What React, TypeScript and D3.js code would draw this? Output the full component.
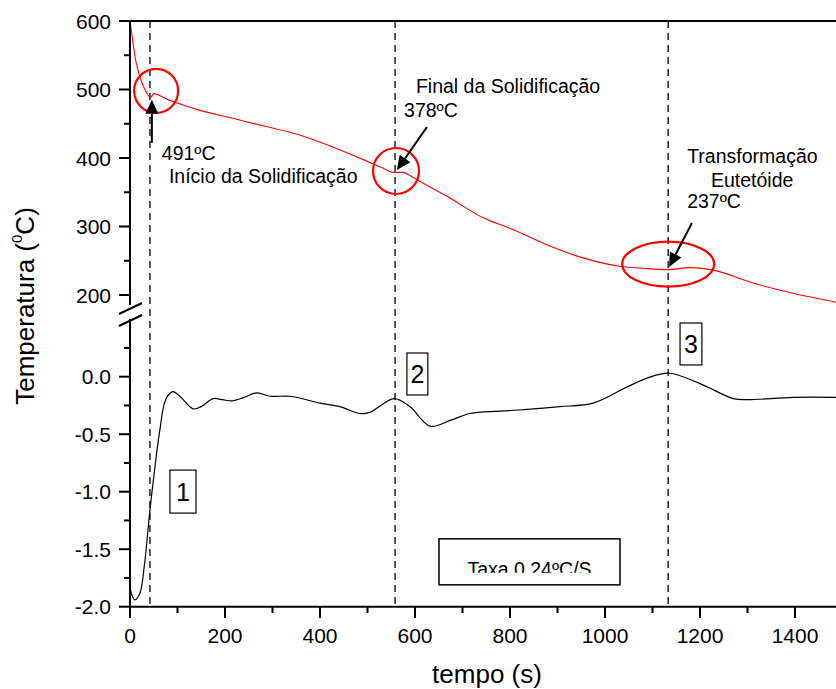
import React from "react";
import * as d3 from "d3";

// ---- Data ----
const tempTime = [0, 5, 10, 18, 28, 38, 43, 50, 60, 80, 105, 140, 210, 280, 350, 420, 490, 530, 555, 575, 590, 610, 670, 740, 805, 875, 945, 1030, 1080, 1133, 1180, 1230, 1310, 1380, 1490];
const tempValues = [600, 575, 550, 525, 505, 492, 488, 494, 492, 485, 479, 471, 459, 447, 435, 418, 398, 386, 379, 379, 374, 366, 343, 314, 296, 274, 256, 242, 239, 237, 240, 236, 218, 205, 189];

const derivTime = [0, 10, 21, 30, 42, 55, 63, 75, 90, 105, 133, 150, 175, 195, 215, 240, 267, 295, 337, 400, 442, 484, 505, 556, 589, 632, 674, 716, 780, 850, 905, 975, 1046, 1090, 1135, 1200, 1270, 1298, 1396, 1490];
const derivValues = [-1.84, -1.94, -1.88, -1.65, -1.16, -0.7, -0.46, -0.2, -0.13, -0.17, -0.28, -0.26, -0.19, -0.2, -0.21, -0.18, -0.14, -0.17, -0.17, -0.23, -0.26, -0.32, -0.31, -0.19, -0.26, -0.43, -0.38, -0.32, -0.3, -0.28, -0.26, -0.23, -0.09, -0.01, 0.03, -0.06, -0.19, -0.2, -0.18, -0.18];

const xTicks = [0, 200, 400, 600, 800, 1000, 1200, 1400];
const xMinorTicks = [100, 300, 500, 700, 900, 1100, 1300, 1500];
const topTicks = [600, 500, 400, 300, 200];
const topMinorTicks = [550, 450, 350, 250];
const botTicks = [0, -0.5, -1.0, -1.5, -2.0];
const botMinorTicks = [0.25, -0.25, -0.75, -1.25, -1.75];

const eventTimes = [42, 558, 1133];
const eventLabels = ["1", "2", "3"];

const W = 836, H = 689;
const FONT = "'Liberation Sans', Arial, sans-serif";

export default function App() {
  const x = d3.scaleLinear().domain([0, 1500]).range([130, 842.5]);
  const yTop = d3.scaleLinear().domain([200, 600]).range([295, 21]);
  const yBot = d3.scaleLinear().domain([-2, 0]).range([606.7, 376.7]);

  const redLine = d3
    .line<number>()
    .x((_, i) => x(tempTime[i]))
    .y((d) => yTop(d))
    .curve(d3.curveMonotoneX)(tempValues) as string;

  const blackLine = d3
    .line<number>()
    .x((_, i) => x(derivTime[i]))
    .y((d) => yBot(d))
    .curve(d3.curveCatmullRom.alpha(0.5))(derivValues) as string;

  const arrow = (x1: number, y1: number, x2: number, y2: number, key: string) => {
    const ang = Math.atan2(y2 - y1, x2 - x1);
    const L = 14, hw = 6.5;
    const bx = x2 - L * Math.cos(ang), by = y2 - L * Math.sin(ang);
    const px = -Math.sin(ang) * hw, py = Math.cos(ang) * hw;
    return (
      <g key={key}>
        <line x1={x1} y1={y1} x2={bx} y2={by} stroke="#000" strokeWidth={2} />
        <path d={`M${x2},${y2}L${bx + px},${by + py}L${bx - px},${by - py}Z`} fill="#000" />
      </g>
    );
  };

  const boxes = [
    { t0: 84, t1: 139, v0: -0.812, v1: -1.186 },
    { t0: 583, t1: 627, v0: 0.206, v1: -0.159 },
    { t0: 1158, t1: 1204, v0: 0.467, v1: 0.102 },
  ];

  const taxa = { t0: 650.5, t1: 1031.6, v0: -1.41, v1: -1.81 };

  return (
    <svg width={W} height={H} style={{ position: "absolute", left: 0, top: 0, background: "#fff" }} fontFamily={FONT}>
      <defs>
        <clipPath id="plot">
          <rect x={130} y={0} width={W - 130} height={H} />
        </clipPath>
        <clipPath id="taxaClip">
          <rect x={x(taxa.t0)} y={yBot(taxa.v0)} width={x(taxa.t1) - x(taxa.t0)} height={34} />
        </clipPath>
      </defs>
      <rect x={0} y={0} width={W} height={H} fill="#fff" />

      {/* dashed event lines */}
      {eventTimes.map((t) => (
        <line key={"ev" + t} x1={x(t)} x2={x(t)} y1={21} y2={606.7} stroke="#000" strokeWidth={1.3} strokeDasharray="7,5" />
      ))}

      {/* curves */}
      <g clipPath="url(#plot)">
        <path d={redLine} fill="none" stroke="#ff0000" strokeWidth={1.1} />
        <path d={blackLine} fill="none" stroke="#000" strokeWidth={1.2} />
      </g>

      {/* circles */}
      <circle cx={x(55)} cy={yTop(498)} r={22} fill="none" stroke="#ff0000" strokeWidth={2.2} />
      <circle cx={x(560)} cy={yTop(381)} r={23} fill="none" stroke="#ff0000" strokeWidth={2.2} />
      <ellipse cx={x(1133)} cy={yTop(245)} rx={46} ry={22.5} fill="none" stroke="#ff0000" strokeWidth={2.2} />

      {/* arrows */}
      {arrow(x(46), yTop(422), x(46), yTop(485), "a1")}
      {arrow(x(625), yTop(445), x(562), yTop(382.5), "a2")}
      {arrow(x(1183), yTop(305), x(1135), yTop(241), "a3")}

      {/* annotation texts */}
      <g fontSize={19.5} fill="#000">
        <text x={x(67)} y={yTop(397)}>491ºC</text>
        <text x={x(82)} y={yTop(363.5)}>Início da Solidificação</text>
        <text x={x(602)} y={yTop(495)}>Final da Solidificação</text>
        <text x={x(577)} y={yTop(460)}>378ºC</text>
        <text x={x(1173)} y={yTop(393)}>Transformação</text>
        <text x={x(1223)} y={yTop(358)}>Eutetóide</text>
        <text x={x(1173)} y={yTop(327)}>237ºC</text>
      </g>

      {/* number boxes */}
      {boxes.map((b, i) => (
        <g key={"b" + i}>
          <rect x={x(b.t0)} y={yBot(b.v0)} width={x(b.t1) - x(b.t0)} height={yBot(b.v1) - yBot(b.v0)} fill="#fff" stroke="#000" strokeWidth={1.2} />
          <text x={(x(b.t0) + x(b.t1)) / 2} y={(yBot(b.v0) + yBot(b.v1)) / 2 + 9} fontSize={25} textAnchor="middle">
            {eventLabels[i]}
          </text>
        </g>
      ))}

      {/* Taxa box */}
      <rect x={x(taxa.t0)} y={yBot(taxa.v0)} width={x(taxa.t1) - x(taxa.t0)} height={yBot(taxa.v1) - yBot(taxa.v0)} fill="#fff" stroke="#000" strokeWidth={1.5} />
      <text x={(x(taxa.t0) + x(taxa.t1)) / 2} y={yBot(taxa.v0) + 37} fontSize={19.5} textAnchor="middle" clipPath="url(#taxaClip)">
        Taxa 0.24ºC/S
      </text>

      {/* axes frame */}
      <line x1={130} x2={W} y1={21} y2={21} stroke="#000" strokeWidth={2} />
      <line x1={130} x2={W} y1={606.7} y2={606.7} stroke="#000" strokeWidth={2} />
      <line x1={130} x2={130} y1={20} y2={305} stroke="#000" strokeWidth={2} />
      <line x1={130} x2={130} y1={319} y2={607.7} stroke="#000" strokeWidth={2} />
      {/* break marks */}
      <line x1={119} y1={314} x2={142} y2={303} stroke="#000" strokeWidth={2} />
      <line x1={119} y1={326} x2={142} y2={315} stroke="#000" strokeWidth={2} />

      {/* x ticks */}
      {xTicks.map((t) => (
        <g key={"xt" + t}>
          <line x1={x(t)} x2={x(t)} y1={606.7} y2={618} stroke="#000" strokeWidth={2} />
          <text x={x(t)} y={643} fontSize={21} textAnchor="middle">{t}</text>
        </g>
      ))}
      {xMinorTicks.map((t) => (
        <line key={"xm" + t} x1={x(t)} x2={x(t)} y1={606.7} y2={613} stroke="#000" strokeWidth={2} />
      ))}

      {/* top y ticks */}
      {topTicks.map((v) => (
        <g key={"yt" + v}>
          <line x1={119} x2={130} y1={yTop(v)} y2={yTop(v)} stroke="#000" strokeWidth={2} />
          <text x={111} y={yTop(v) + 7.5} fontSize={21} textAnchor="end">{v}</text>
        </g>
      ))}
      {topMinorTicks.map((v) => (
        <line key={"ym" + v} x1={124} x2={130} y1={yTop(v)} y2={yTop(v)} stroke="#000" strokeWidth={2} />
      ))}

      {/* bottom y ticks */}
      {botTicks.map((v) => (
        <g key={"bt" + v}>
          <line x1={119} x2={130} y1={yBot(v)} y2={yBot(v)} stroke="#000" strokeWidth={2} />
          <text x={111} y={yBot(v) + 7.5} fontSize={21} textAnchor="end">{d3.format(".1f")(v).replace("−", "-")}</text>
        </g>
      ))}
      {botMinorTicks.map((v) => (
        <line key={"bm" + v} x1={124} x2={130} y1={yBot(v)} y2={yBot(v)} stroke="#000" strokeWidth={2} />
      ))}

      {/* axis titles */}
      <text x={487} y={683} fontSize={26} textAnchor="middle">tempo (s)</text>
      <text transform="translate(34,306) rotate(-90)" fontSize={26} textAnchor="middle">
        Temperatura (<tspan fontSize={15} dy={-12}>0</tspan><tspan dy={12}>C)</tspan>
      </text>
    </svg>
  );
}
